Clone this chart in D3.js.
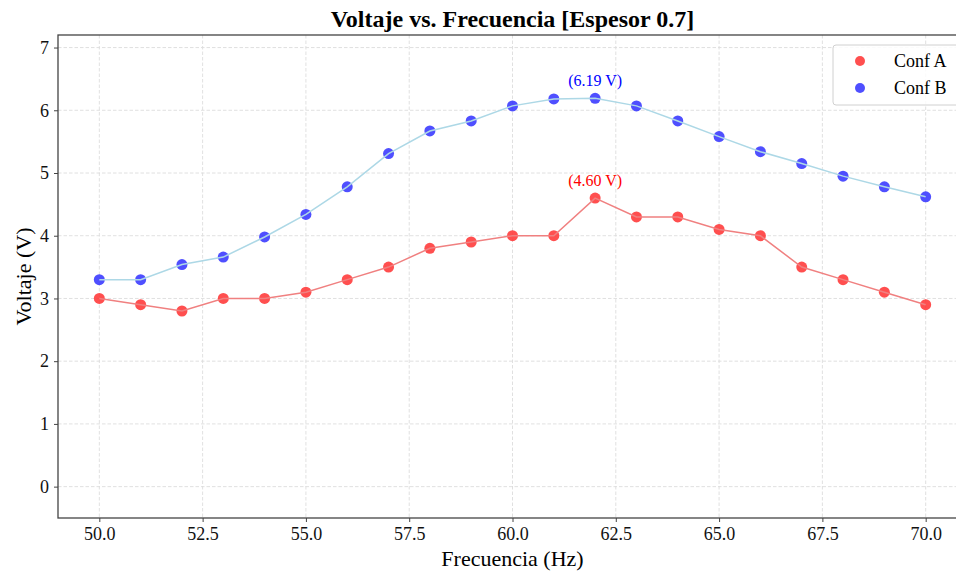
<!DOCTYPE html>
<html>
<head>
<meta charset="utf-8">
<script src="https://cdn.jsdelivr.net/npm/d3@7"></script>
<style>
  body { margin: 0; background: #fff; }
  svg { font-family: "Liberation Serif", "Times New Roman", serif; }
</style>
</head>
<body>
<script>
// data
var freq = [50, 51, 52, 53, 54, 55, 56, 57, 58, 59, 60, 61, 62, 63, 64, 65, 66, 67, 68, 69, 70];
var confA = [3.0, 2.9, 2.8, 3.0, 3.0, 3.1, 3.3, 3.5, 3.8, 3.9, 4.0, 4.0, 4.6, 4.3, 4.3, 4.1, 4.0, 3.5, 3.3, 3.1, 2.9];
var confB = [3.30, 3.30, 3.54, 3.66, 3.98, 4.34, 4.78, 5.31, 5.67, 5.83, 6.07, 6.18, 6.19, 6.07, 5.83, 5.58, 5.34, 5.15, 4.95, 4.78, 4.62];
var seriesNames = ["Conf A", "Conf B"];
var xTicks = [50, 52.5, 55, 57.5, 60, 62.5, 65, 67.5, 70];
var yTicks = [0, 1, 2, 3, 4, 5, 6, 7];

var svgWidth = 956;
var svgHeight = 573;

// axes box (right edge runs past the picture, as in the original)
var plotLeft = 58, plotRight = 967, plotTop = 35, plotBottom = 518;

var svg = d3.select("body")
    .append("svg")
    .attr("width", svgWidth)
    .attr("height", svgHeight);

var x = d3.scaleLinear().domain([49, 71]).range([plotLeft, plotRight]);
var y = d3.scaleLinear().domain([-0.5, 7.2]).range([plotBottom, plotTop]);

// grid
var grid = svg.append("g").attr("class", "grid");
grid.selectAll("line.v")
    .data(xTicks)
    .enter()
    .append("line")
    .attr("x1", d => x(d)).attr("x2", d => x(d))
    .attr("y1", plotTop).attr("y2", plotBottom)
    .attr("stroke", "#dcdcdc")
    .attr("stroke-width", 0.9)
    .attr("stroke-dasharray", "3.5,2");
grid.selectAll("line.h")
    .data(yTicks)
    .enter()
    .append("line")
    .attr("x1", plotLeft).attr("x2", plotRight)
    .attr("y1", d => y(d)).attr("y2", d => y(d))
    .attr("stroke", "#dcdcdc")
    .attr("stroke-width", 0.9)
    .attr("stroke-dasharray", "3.5,2");

// axes
var bottomAxis = d3.axisBottom(x).tickValues(xTicks).tickFormat(d3.format(".1f")).tickSizeOuter(0).tickSize(4).tickPadding(5);
var leftAxis = d3.axisLeft(y).tickValues(yTicks).tickFormat(d3.format("d")).tickSizeOuter(0).tickSize(4).tickPadding(5);

var gx = svg.append("g")
    .attr("transform", `translate(0,${plotBottom})`)
    .call(bottomAxis);
var gy = svg.append("g")
    .attr("transform", `translate(${plotLeft},0)`)
    .call(leftAxis);

[gx, gy].forEach(function(g) {
    g.select(".domain").remove();
    g.selectAll(".tick line").attr("stroke", "#444").attr("stroke-width", 1);
    g.selectAll(".tick text")
        .attr("fill", "#111")
        .style("font-size", "18px")
        .style("font-family", "'Liberation Serif', serif");
});

// spines
svg.append("rect")
    .attr("x", plotLeft)
    .attr("y", plotTop)
    .attr("width", plotRight - plotLeft)
    .attr("height", plotBottom - plotTop)
    .attr("fill", "none")
    .attr("stroke", "#444")
    .attr("stroke-width", 1.3);

// points first, lines over them
var series = [
    { name: seriesNames[0], values: confA, dot: "#ff3030", line: "#f08080", text: "#ff0000" },
    { name: seriesNames[1], values: confB, dot: "#3030ff", line: "#add8e6", text: "#0000ff" }
];

series.forEach(function(s) {
    svg.append("g")
        .selectAll("circle")
        .data(s.values)
        .enter()
        .append("circle")
        .attr("cx", (d, i) => x(freq[i]))
        .attr("cy", d => y(d))
        .attr("r", 5.5)
        .attr("fill", s.dot)
        .attr("fill-opacity", 0.85);

    var line = d3.line()
        .x((d, i) => x(freq[i]))
        .y(d => y(d));

    svg.append("path")
        .datum(s.values)
        .attr("d", line)
        .attr("fill", "none")
        .attr("stroke", s.line)
        .attr("stroke-width", 1.5);

    // peak label
    var iMax = d3.maxIndex(s.values);
    svg.append("text")
        .attr("x", x(freq[iMax]))
        .attr("y", y(s.values[iMax]) - 12)
        .attr("text-anchor", "middle")
        .attr("fill", s.text)
        .style("font-size", "16px")
        .text("(" + s.values[iMax].toFixed(2) + " V)");
});

// title and labels
svg.append("text")
    .attr("x", (plotLeft + plotRight) / 2)
    .attr("y", 27)
    .attr("text-anchor", "middle")
    .style("font-size", "24px")
    .style("font-weight", "bold")
    .text("Voltaje vs. Frecuencia [Espesor 0.7]");

svg.append("text")
    .attr("x", (plotLeft + plotRight) / 2)
    .attr("y", 566)
    .attr("text-anchor", "middle")
    .style("font-size", "22px")
    .text("Frecuencia (Hz)");

svg.append("text")
    .attr("transform", "rotate(-90)")
    .attr("x", -(plotTop + plotBottom) / 2)
    .attr("y", 31)
    .attr("text-anchor", "middle")
    .style("font-size", "22px")
    .text("Voltaje (V)");

// legend
var legend = svg.append("g").attr("transform", "translate(833,45)");
legend.append("rect")
    .attr("width", 130)
    .attr("height", 60)
    .attr("rx", 3)
    .attr("fill", "#fff")
    .attr("fill-opacity", 0.85)
    .attr("stroke", "#d0d0d0");
series.forEach(function(s, i) {
    legend.append("circle")
        .attr("cx", 27)
        .attr("cy", 16 + i * 27)
        .attr("r", 5)
        .attr("fill", s.dot)
        .attr("fill-opacity", 0.85);
    legend.append("text")
        .attr("x", 61)
        .attr("y", 22 + i * 27)
        .style("font-size", "18px")
        .text(s.name);
});
</script>
</body>
</html>
